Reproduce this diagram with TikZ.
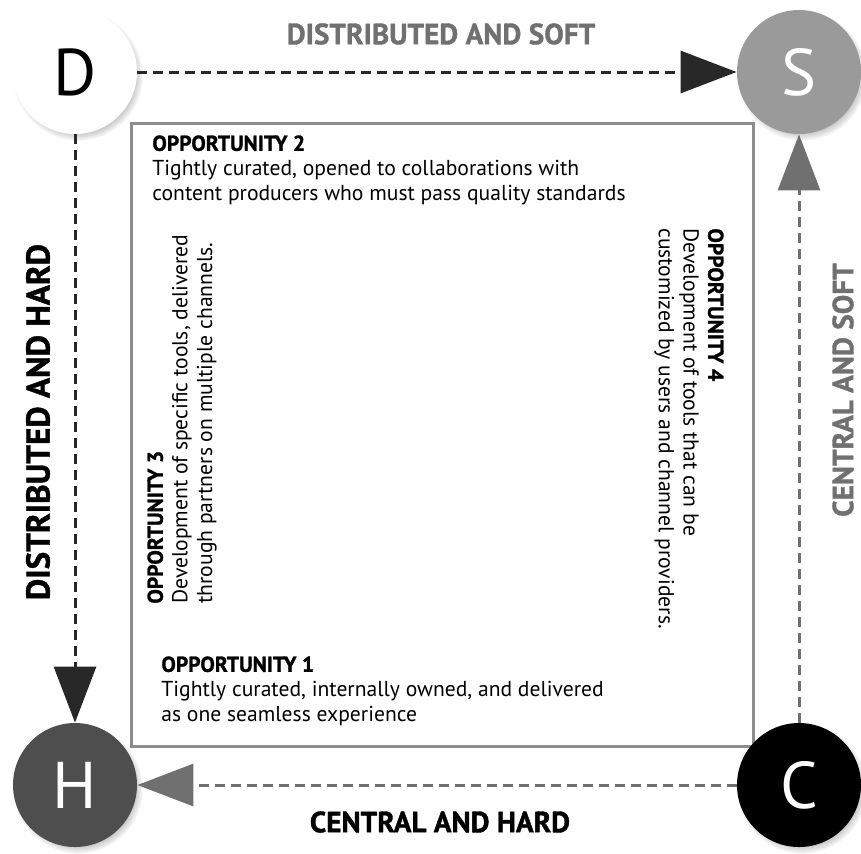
\documentclass[tikz,border=0pt]{standalone}
\usepackage{fontspec}
\setmainfont{PT Sans}
\newfontfamily\heavyfont[FakeBold=1.2]{PT Sans Bold}
\usetikzlibrary{arrows.meta, shadows, positioning}
\definecolor{inkdark}{RGB}{40, 40, 40}
\definecolor{inkgray}{RGB}{112, 112, 112}
\definecolor{softgray}{RGB}{154, 154, 154}
\definecolor{hardgray}{RGB}{78, 78, 78}
\definecolor{framegray}{RGB}{140, 140, 140}

\begin{document}
\begin{tikzpicture}[
  x=0.5pt, y=-0.5pt,
  corner/.style={circle, minimum size=62pt, inner sep=0pt, font=\fontsize{33}{33}\selectfont,
    circular drop shadow={shadow scale=1.05, shadow xshift=1.4pt, shadow yshift=-1.8pt, opacity=0.5}},
  axis/.style={font=\heavyfont\fontsize{14.6}{16}\selectfont},
  opp/.style={align=left, inner sep=0pt, font=\fontsize{10.8}{12.3}\selectfont},
  link/.style={dashed, dash pattern=on 5pt off 3pt, line width=1.5pt,
    -{Triangle[length=28pt, width=21pt]}}
]
  \useasboundingbox (0,0) rectangle (861,853);

  % Frame
  \draw[framegray, line width=1.5pt] (131,123) rectangle (753,746);

  % Corners
  \node[corner, fill=white, text=black] (d) at (75,72) {D};
  \node[corner, fill=softgray, text=white] (s) at (799,72) {S};
  \node[corner, fill=hardgray, text=white] (h) at (75,785) {H};
  \node[corner, fill=black, text=white] (c) at (799,785) {C};

  % Paths
  \draw[link, inkdark] (d) -- (s);
  \draw[link, inkdark] (d) -- (h);
  \draw[link, inkgray] (c) -- (s);
  \draw[link, inkgray] (c) -- (h);

  % Axis labels
  \node[axis, text=inkgray] (ds) at (441,34) {DISTRIBUTED AND SOFT};
  \node[axis, text=black, rotate=90, font=\heavyfont\fontsize{16.5}{18}\selectfont] (dh) at (38,422) {DISTRIBUTED AND HARD};
  \node[axis, text=inkgray, rotate=90] (cs) at (843,390) {CENTRAL AND SOFT};
  \node[axis, text=black] (ch) at (440,822) {CENTRAL AND HARD};

  % Opportunities
  \node[opp, anchor=north west] (o2) at (152,135)
    {{\heavyfont OPPORTUNITY 2}\\Tightly curated, opened to collaborations with\\content producers who must pass quality standards};
  \node[opp, anchor=north west] (o1) at (161,656)
    {{\heavyfont OPPORTUNITY 1}\\Tightly curated, internally owned, and delivered\\as one seamless experience};
  \node[opp, anchor=north west, rotate=90] (o3) at (147,604)
    {{\heavyfont OPPORTUNITY 3}\\Development of specific tools, delivered\\through partners on multiple channels.};
  \node[opp, anchor=north west, rotate=-90] (o4) at (724,228)
    {{\heavyfont OPPORTUNITY 4}\\Development of tools that can be\\customized by users and channel providers.};
\end{tikzpicture}
\end{document}
